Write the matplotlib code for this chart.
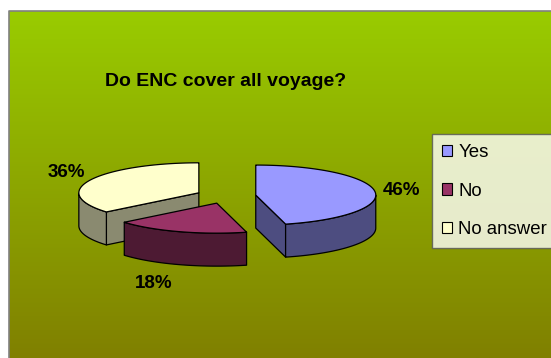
import numpy as np
import matplotlib.pyplot as plt
from matplotlib.patches import Polygon, Patch

plt.rcParams['font.family'] = ['Liberation Sans', 'DejaVu Sans']

# data
categories = ['Yes', 'No', 'No answer']
values = [46, 18, 36]
pct_labels = ['46%', '18%', '36%']
top_colors = ['#9999ff', '#993366', '#ffffcc']
side_colors = ['#4d4d80', '#4d1a33', '#8a8a70']
label_dist = [1.22, 1.7, 1.22]
label_dy = [0, 0, -5]

W, H = 551, 358
fig = plt.figure(figsize=(W / 100, H / 100), dpi=100)
ax = fig.add_axes([0, 0, 1, 1])
ax.set_xlim(0, W)
ax.set_ylim(H, 0)
ax.axis('off')

# chart area: vertical green -> olive gradient
grad = np.linspace(0, 1, 256)[:, None, None]
c_top = np.array([153, 204, 0]) / 255
c_bot = np.array([128, 128, 0]) / 255
ax.imshow(c_top + (c_bot - c_top) * grad, extent=[9, W, H, 11], aspect='auto', zorder=0)
ax.plot([9, 9, W], [H, 11, 11], color='#808080', lw=1.2, zorder=1)

# 3D exploded pie, drawn by hand
cx, cy, rx, ry, depth, explode = 226, 196, 120, 30, 33, 0.25
fracs = np.array(values) / sum(values)
ends = 90 - 360 * np.cumsum(fracs)
starts = ends + 360 * fracs
mids = np.radians((starts + ends) / 2)

def rim(sx, sy, t):
    return np.column_stack([sx + rx * np.cos(t), sy - ry * np.sin(t)])

order = np.argsort(-np.sin(mids))  # back to front
z = 2
for i in order:
    a1, a2, m = np.radians(ends[i]), np.radians(starts[i]), mids[i]
    sx = cx + explode * rx * np.cos(m)
    sy = cy - explode * ry * np.sin(m)
    t = np.linspace(a1, a2, 400)
    edge = rim(sx, sy, t)
    kw = dict(edgecolor='black', lw=0.9, joinstyle='round')

    # cut faces
    for a, nrm in [(a1, a1 - np.pi / 2), (a2, a2 + np.pi / 2)]:
        if np.sin(nrm) < -1e-6:
            p = rim(sx, sy, np.array([a]))[0]
            quad = [(sx, sy), tuple(p), (p[0], p[1] + depth), (sx, sy + depth)]
            ax.add_patch(Polygon(quad, closed=True, facecolor=side_colors[i], zorder=z, **kw))
    # front wall
    tf = t[np.sin(t) <= 0]
    if len(tf) > 1:
        r = rim(sx, sy, tf)
        wall = np.vstack([r, (r + [0, depth])[::-1]])
        ax.add_patch(Polygon(wall, closed=True, facecolor=side_colors[i], zorder=z, **kw))
    # top face
    top = np.vstack([[sx, sy], edge])
    ax.add_patch(Polygon(top, closed=True, facecolor=top_colors[i], zorder=z + 1, **kw))
    z += 2

    # percentage label
    f = label_dist[i]
    lx = sx + f * rx * np.cos(m)
    ly = sy - f * ry * np.sin(m) + depth * max(0.0, -np.sin(m)) + label_dy[i]
    ax.text(lx, ly, pct_labels[i], ha='center', va='center', fontsize=13.5,
            fontweight='bold', zorder=20)

ax.text(226, 81, 'Do ENC cover all voyage?', ha='center', va='center',
        fontsize=14, fontweight='bold', zorder=20)

handles = [Patch(facecolor=c, edgecolor='black', lw=0.8) for c in top_colors]
leg = ax.legend(handles, categories, loc='upper left', bbox_to_anchor=(432 / W, 1 - 134 / H),
                borderaxespad=0, fontsize=13.4, frameon=True, fancybox=False,
                handlelength=0.55, handleheight=0.55, handletextpad=0.3,
                labelspacing=1.15, borderpad=0.55)
leg.get_frame().set_edgecolor('#555555')
leg.get_frame().set_linewidth(1.0)
leg.set_zorder(30)

fig.savefig('out.png', dpi=100)
